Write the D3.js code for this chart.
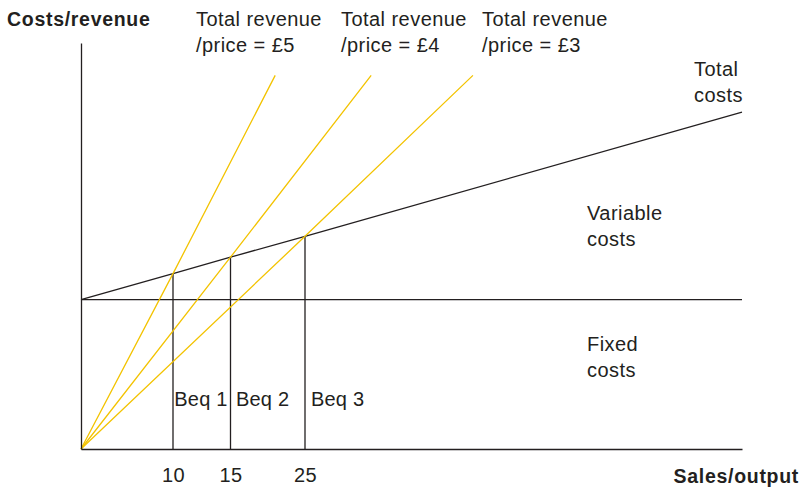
<!DOCTYPE html>
<html>
<head>
<meta charset="utf-8">
<script src="https://cdn.jsdelivr.net/npm/d3@7"></script>
<style>
  html, body { margin: 0; padding: 0; background: #fff; }
  svg text { font-family: "Liberation Sans", Arial, Helvetica, sans-serif; fill: #231f20; }
</style>
</head>
<body>
<svg id="chart" width="801" height="488"></svg>
<script>
// Break-even diagram: fixed costs, total costs and three total revenue lines
const outputTicks = [10, 15, 25];
const outputTickLabels = ["10", "15", "25"];
const outputMax = 60;
const costMax = 81.5;

const fixedCost = 30;
const totalCostAtMax = 67.6;

const breakEvenOutput = [10, 15, 25];
const breakEvenCost = [35.2, 38.5, 42.7];
const breakEvenLabels = ["Beq 1", "Beq 2", "Beq 3"];

const priceLabels = ["£5", "£4", "£3"];
const revenueTopOutput = [21, 30.3, 38.45];
const revenueTopValue = 75;

const BLACK = "#231f20";
const YELLOW = "#f3c300";
const FONT_SIZE = 20;
const SPACING = 0.45;

const svg = d3.select("#chart");

// The output axis is schematic: the labelled break-even points are spaced by hand
const x = d3.scaleLinear()
  .domain([0, 10, 15, 25, outputMax])
  .range([81, 173, 230.5, 305, 742]);
const y = d3.scaleLinear().domain([0, costMax]).range([449, 43]);

const line = d3.line().x(d => x(d[0])).y(d => y(d[1]));

// Break-even verticals
svg.append("g").selectAll("line")
  .data(breakEvenOutput)
  .join("line")
  .attr("x1", d => x(d)).attr("x2", d => x(d))
  .attr("y1", y(0))
  .attr("y2", (d, i) => y(breakEvenCost[i]))
  .attr("stroke", BLACK).attr("stroke-width", 1.3);

// Fixed costs
svg.append("path")
  .attr("d", line([[0, fixedCost], [outputMax, fixedCost]]))
  .attr("fill", "none").attr("stroke", BLACK).attr("stroke-width", 1.3);

// Total costs through the break-even points
const totalCostPts = [[0, fixedCost]]
  .concat(breakEvenOutput.map((q, i) => [q, breakEvenCost[i]]))
  .concat([[outputMax, totalCostAtMax]]);
svg.append("path")
  .attr("d", line(totalCostPts))
  .attr("fill", "none").attr("stroke", BLACK).attr("stroke-width", 1.3);

// Total revenue lines, one per price
svg.append("g").selectAll("path")
  .data(priceLabels)
  .join("path")
  .attr("d", (p, i) => line([[0, 0], [breakEvenOutput[i], breakEvenCost[i]], [revenueTopOutput[i], revenueTopValue]]))
  .attr("fill", "none").attr("stroke", YELLOW).attr("stroke-width", 1.3);

// Axes
const xAxis = svg.append("g")
  .attr("transform", `translate(0,${y(0)})`)
  .call(d3.axisBottom(x).tickValues(outputTicks)
    .tickFormat((d, i) => outputTickLabels[i]).tickSize(0).tickPadding(19));
xAxis.select(".domain").attr("stroke", BLACK).attr("stroke-width", 1.3);
xAxis.selectAll("text").attr("font-size", FONT_SIZE).attr("font-family", null)
  .attr("letter-spacing", SPACING).style("fill", BLACK);

const yAxis = svg.append("g")
  .attr("transform", `translate(${x(0)},0)`)
  .call(d3.axisLeft(y).tickValues([]).tickSize(0));
yAxis.select(".domain").attr("stroke", BLACK).attr("stroke-width", 1.3);

// Text
function label(xp, yp, lines, opts = {}) {
  const t = svg.append("text")
    .attr("x", xp).attr("y", yp)
    .attr("font-size", opts.size || FONT_SIZE)
    .attr("font-weight", opts.bold ? "bold" : "normal")
    .attr("letter-spacing", opts.spacing != null ? opts.spacing : SPACING)
    .attr("text-anchor", opts.anchor || "start");
  lines.forEach((s, i) => {
    t.append("tspan").attr("x", xp).attr("dy", i === 0 ? 0 : 26.3).text(s);
  });
}

label(7, 25.5, ["Costs/revenue"], { bold: true, size: 19.5, spacing: 0.7 });
label(799, 483, ["Sales/output"], { bold: true, size: 19.5, spacing: 0.7, anchor: "end" });

const revenueLabelX = [196, 341, 482];
priceLabels.forEach((p, i) => label(revenueLabelX[i], 25.5, ["Total revenue", "/price = " + p]));

label(694, 75.5, ["Total", "costs"]);
label(587, 220, ["Variable", "costs"]);
label(587, 350.5, ["Fixed", "costs"]);

// Break-even labels sit just right of their verticals
const breakEvenLabelGap = [1.3, 5.5, 6];
breakEvenLabels.forEach((s, i) =>
  label(x(breakEvenOutput[i]) + breakEvenLabelGap[i], 405.5, [s], { spacing: 0.2 }));
</script>
</body>
</html>
